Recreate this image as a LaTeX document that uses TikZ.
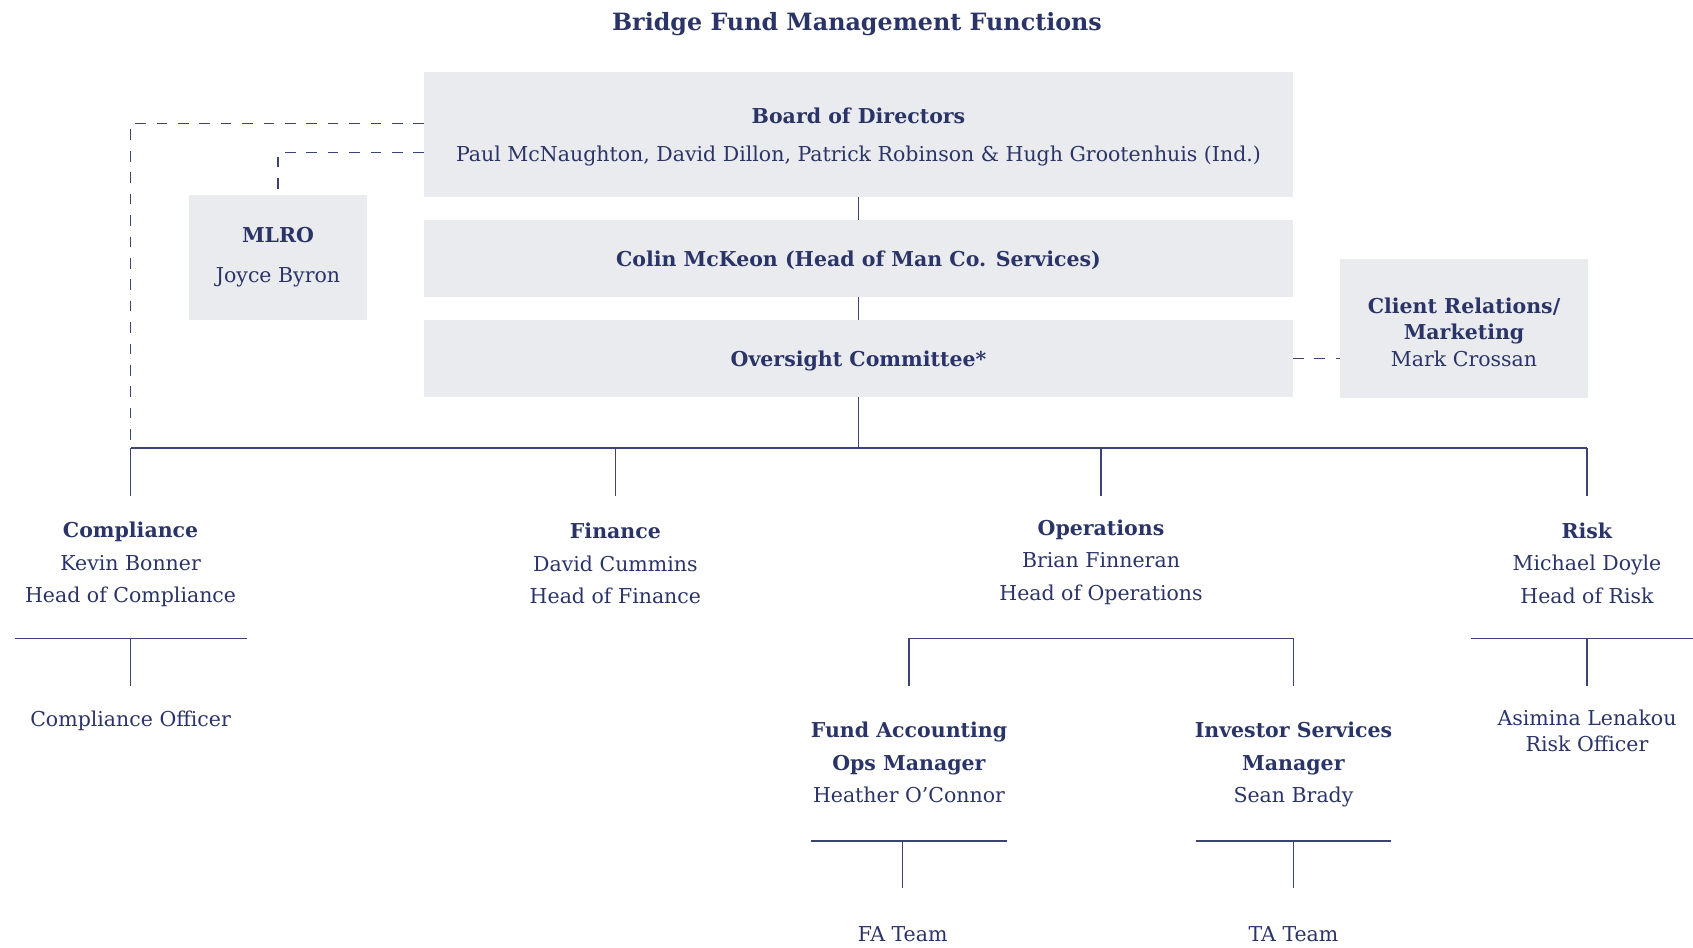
\documentclass[tikz,border=0pt]{standalone}
\usepackage{fontspec}
\setmainfont{DejaVu Serif}
\usetikzlibrary{positioning}
\definecolor{inkblue}{HTML}{2B3467}
\definecolor{lineblue}{HTML}{3B4372}
\definecolor{panegray}{HTML}{EAEBEF}
\newcommand{\bodysize}{\fontsize{20.5}{32.5}\selectfont}
\tikzstyle{pane}=[fill=panegray, inner sep=0, outer sep=0, align=center, text=inkblue]
% multi-line roles sit on the baseline of their last line
\tikzstyle{role}=[inner sep=0, outer sep=0, align=center, text=inkblue, anchor=base]
\tikzstyle{link}=[draw=lineblue, line width=1.4pt]
\tikzstyle{reportline}=[draw=lineblue, line width=1.4pt, dash pattern=on 10.7pt off 10.7pt]

\begin{document}
\begin{tikzpicture}[x=1pt, y=-1pt, every node/.style={font=\bodysize}]
    \useasboundingbox (0,0) rectangle (1693,947);
    \node[role, font=\fontsize{23.8}{28}\selectfont\bfseries] (title) at (857,31) {Bridge Fund Management Functions};
    % top of the chart
    \node[pane, minimum width=869pt, minimum height=125pt, text depth=0pt, font=\fontsize{20.5}{38.5}\selectfont] (board) at (858.5,134.5)
        {\textbf{Board of Directors}\\Paul McNaughton, David Dillon, Patrick Robinson \& Hugh Grootenhuis (Ind.)};
    \node[pane, minimum width=869pt, minimum height=77pt, text depth=0pt, font=\bodysize\bfseries] (colin) at (858.5,258.5) {Colin McKeon (Head of Man Co. Services)};
    \node[pane, minimum width=869pt, minimum height=77pt, text depth=0pt, font=\bodysize\bfseries] (oversight) at (858.5,358.5) {Oversight Committee*};
    \node[pane, minimum width=178pt, minimum height=125pt, font=\fontsize{20.5}{40}\selectfont] (mlro) at (278,257.5) {\textbf{MLRO}\\Joyce Byron};
    \node[pane, minimum width=248pt, minimum height=139pt, font=\fontsize{20.5}{26.5}\selectfont] (client) at (1464,328.5)
        {\rule{0pt}{23pt}\textbf{Client Relations/}\\\textbf{Marketing}\\Mark Crossan};
    \draw[link] (board) -- (colin);
    \draw[link] (colin) -- (oversight);
    % reporting lines
    \coordinate (bus-west) at (130.6,448);
    \coordinate (bus-east) at (1587,448);
    \coordinate (bus-top) at (858.5,448);
    \coordinate (board-tap1) at (424,123.3);
    \coordinate (board-tap2) at (424,152.7);
    \draw[reportline] (board-tap1) -- (bus-west |- board-tap1) -- (bus-west);
    \draw[reportline] (board-tap2) -- (mlro.north |- board-tap2) -- (mlro.north);
    \draw[reportline] (oversight.east) -- (oversight.east -| client.west);
    \draw[link] (oversight) -- (bus-top);
    \draw[link] (bus-west) -- (bus-east);
    \foreach \x/\n in {130.6/compliance, 615.4/finance, 1101/operations, 1587/risk} {
        \coordinate (drop-\n) at (\x,495.7);
        \draw[link] (\x,448) -- (drop-\n);
    }
    % functions
    \node[role] (compliance) at (130.6,602.7) {\textbf{Compliance}\\Kevin Bonner\\Head of Compliance};
    \node[role] (finance) at (615.4,603.5) {\textbf{Finance}\\David Cummins\\Head of Finance};
    \node[role] (operations) at (1101,600) {\textbf{Operations}\\Brian Finneran\\Head of Operations};
    \node[role] (risk) at (1587,603) {\textbf{Risk}\\Michael Doyle\\Head of Risk};
    % compliance team
    \coordinate (comp-tee) at (130.6,638.3);
    \coordinate (comp-drop) at (130.6,685.7);
    \draw[link] (14.7,638.3) -- (246.7,638.3);
    \draw[link] (comp-tee) -- (comp-drop);
    \node[role] (compofficer) at (130.6,726.7) {Compliance Officer};
    % risk team
    \coordinate (risk-tee) at (1587,638.3);
    \coordinate (risk-drop) at (1587,685.7);
    \draw[link] (1471,638.3) -- (1693,638.3);
    \draw[link] (risk-tee) -- (risk-drop);
    \node[role, font=\fontsize{20.5}{26}\selectfont] (riskofficer) at (1587,751.7) {Asimina Lenakou\\Risk Officer};
    % operations teams
    \coordinate (fa-drop) at (909,685.7);
    \coordinate (is-drop) at (1293.5,685.7);
    \draw[link] (fa-drop) -- (909,638.3) -- (1293.5,638.3) -- (is-drop);
    \node[role] (fundacct) at (909,802.7) {\textbf{Fund Accounting}\\\textbf{Ops Manager}\\Heather O’Connor};
    \node[role] (investor) at (1293.5,802.7) {\textbf{Investor Services}\\\textbf{Manager}\\Sean Brady};
    \coordinate (fa-tee) at (902.6,841);
    \coordinate (fa-end) at (902.6,887.5);
    \coordinate (ta-tee) at (1293.5,841);
    \coordinate (ta-end) at (1293.5,887.5);
    \draw[link] (811,841) -- (1006.5,841);
    \draw[link] (1196,841) -- (1391,841);
    \draw[link] (fa-tee) -- (fa-end);
    \draw[link] (ta-tee) -- (ta-end);
    \node[role] (fateam) at (902.6,941.7) {FA Team};
    \node[role] (tateam) at (1293.5,941.7) {TA Team};
\end{tikzpicture}
\end{document}
